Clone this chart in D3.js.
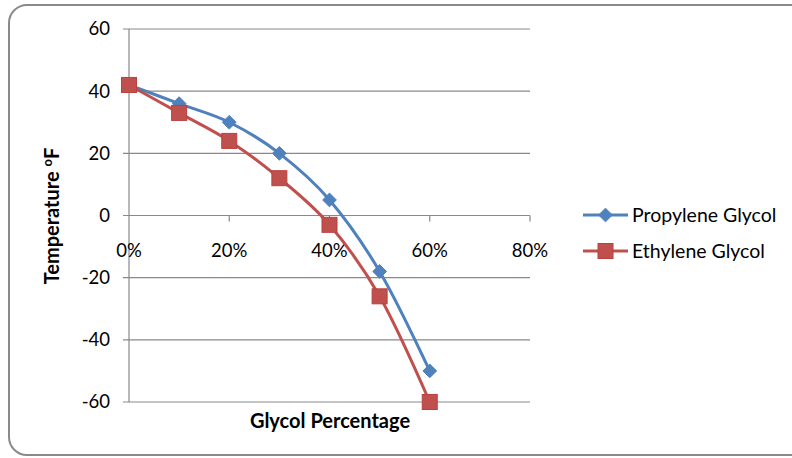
<!DOCTYPE html>
<html><head><meta charset="utf-8">
<script src="https://cdn.jsdelivr.net/npm/d3@7"></script>
<style>body{margin:0;background:#fff}svg{display:block}</style>
</head><body>
<svg id="c" width="792" height="458"></svg>
<script>
const percentages = [0, 0.1, 0.2, 0.3, 0.4, 0.5, 0.6];
const propylene = [42, 36, 30, 20, 5, -18, -50];
const ethylene = [42, 33, 24, 12, -3, -26, -60];
const xTicks = [0, 0.2, 0.4, 0.6, 0.8];
const yTicks = [-60, -40, -20, 0, 20, 40, 60];
const seriesNames = ["Propylene Glycol", "Ethylene Glycol"];

const svg = d3.select("#c");
const font = "Lato, 'Open Sans', sans-serif";
svg.append("rect").attr("x", 9).attr("y", 5).attr("width", 800).attr("height", 450)
  .attr("rx", 18).attr("fill", "#fff").attr("stroke", "#8a8a8a").attr("stroke-width", 2);

const x = d3.scaleLinear().domain([0, 0.8]).range([129, 530]);
const y = d3.scaleLinear().domain([-60, 60]).range([402, 29]);

// gridlines
svg.append("g").selectAll("line").data(yTicks).join("line")
  .attr("x1", 123).attr("x2", 530).attr("y1", d => y(d)).attr("y2", d => y(d))
  .attr("stroke", "#898989").attr("stroke-width", 1.2);
// y axis line
svg.append("line").attr("x1", 129).attr("x2", 129).attr("y1", y(60)).attr("y2", y(-60))
  .attr("stroke", "#898989").attr("stroke-width", 1.2);
// x ticks
svg.append("g").selectAll("line").data(xTicks.slice(1)).join("line")
  .attr("x1", d => x(d)).attr("x2", d => x(d)).attr("y1", y(0)).attr("y2", y(0) + 6)
  .attr("stroke", "#898989").attr("stroke-width", 1.2);
// y tick labels
svg.append("g").selectAll("text").data(yTicks).join("text")
  .attr("x", 110).attr("y", d => y(d)).attr("dy", "0.35em").attr("text-anchor", "end")
  .attr("font-family", font).attr("font-size", 18.5).attr("fill", "#000").text(d => d);
// x tick labels
const pf = d3.format(".0%");
svg.append("g").selectAll("text").data(xTicks).join("text")
  .attr("x", d => x(d)).attr("y", y(0) + 35).attr("dy", "0.35em").attr("text-anchor", "middle")
  .attr("font-family", font).attr("font-size", 18.5).attr("fill", "#000").text(d => pf(d));

// titles
svg.append("text").attr("x", 330).attr("y", 428).attr("text-anchor", "middle")
  .attr("font-family", font).attr("font-size", 20).attr("font-weight", "bold").text("Glycol Percentage");
const yt = svg.append("text").attr("transform", "translate(59,216) rotate(-90)").attr("text-anchor", "middle")
  .attr("font-family", font).attr("font-size", 20).attr("font-weight", "bold");
yt.append("tspan").text("Temperature ");
yt.append("tspan").attr("font-size", 13).attr("dy", -7).text("o");
yt.append("tspan").attr("dy", 7).text("F");

const colors = ["#4F81BD", "#C0504D"];
const data = [propylene, ethylene];
const line = d3.line().x((d, i) => x(percentages[i])).y(d => y(d)).curve(d3.curveCatmullRom.alpha(0));
data.forEach((s, k) => {
  svg.append("path").attr("d", line(s)).attr("fill", "none").attr("stroke", colors[k]).attr("stroke-width", 3);
});
// markers
function marker(g, k, cx, cy) {
  if (k === 0) {
    g.append("path").attr("d", d3.symbol(d3.symbolDiamond2, 120)())
      .attr("transform", `translate(${cx},${cy})`).attr("fill", colors[0]).attr("stroke", colors[0]).attr("stroke-width", 1);
  } else {
    g.append("rect").attr("x", cx - 7.5).attr("y", cy - 7.5).attr("width", 15).attr("height", 15)
      .attr("fill", colors[1]).attr("stroke", "#b9413e").attr("stroke-width", 1);
  }
}
data.forEach((s, k) => {
  const g = svg.append("g");
  s.forEach((v, i) => marker(g, k, x(percentages[i]), y(v)));
});

// legend
seriesNames.forEach((n, k) => {
  const ly = 215 + k * 36;
  svg.append("line").attr("x1", 583).attr("x2", 628).attr("y1", ly).attr("y2", ly)
    .attr("stroke", colors[k]).attr("stroke-width", 3);
  marker(svg.append("g"), k, 605.5, ly);
  svg.append("text").attr("x", 632).attr("y", ly).attr("dy", "0.35em")
    .attr("font-family", font).attr("font-size", 19.5).text(n);
});
</script>
</body></html>
